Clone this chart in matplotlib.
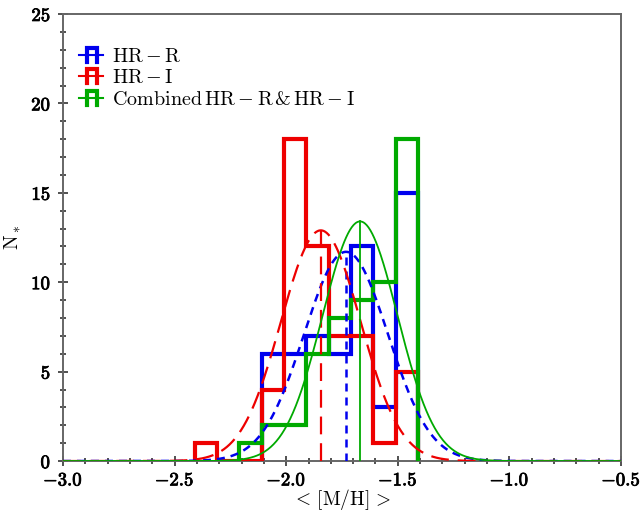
import matplotlib

matplotlib.use("Agg")
import matplotlib.patheffects as pe  # noqa: E402
import matplotlib.pyplot as plt  # noqa: E402
import numpy as np  # noqa: E402
from matplotlib.legend_handler import HandlerBase  # noqa: E402
from matplotlib.lines import Line2D  # noqa: E402
from matplotlib.ticker import FuncFormatter, MultipleLocator  # noqa: E402

plt.rcParams["mathtext.fontset"] = "cm"
plt.rcParams["font.family"] = "serif"

# metallicity bins and star counts per sample
bin_edges = [-2.41, -2.31, -2.21, -2.11, -2.01, -1.91, -1.81, -1.71, -1.61, -1.51, -1.41]
counts_r = [0, 0, 0, 6, 6, 7, 6, 12, 3, 15]
counts_i = [1, 0, 0, 4, 18, 12, 7, 7, 1, 5]
counts_comb = [0, 0, 1, 2, 2, 6, 8, 9, 10, 18]

# gaussian fits: (mean, sigma, amplitude)
fit_r = (-1.732, 0.188, 11.7)
fit_i = (-1.845, 0.178, 12.9)
fit_comb = (-1.669, 0.168, 13.4)

labels = [r"$\mathrm{HR-R}$", r"$\mathrm{HR-I}$", r"$\mathrm{Combined\,HR-R\,&\,HR-I}$"]
colors = ["#0000ee", "#ee0000", "#00aa00"]


class StepHandler(HandlerBase):
    """Small step-histogram glyph for the legend."""

    def create_artists(self, legend, orig_handle, xdescent, ydescent, width, height,
                       fontsize, trans):
        c = orig_handle.get_color()
        x0, y0 = -xdescent, -ydescent
        ym = y0 + height / 2
        thin = Line2D([x0, x0 + width], [ym, ym], color=c, lw=1.5, transform=trans)
        xa, xb = x0 + 0.32 * width, x0 + 0.76 * width
        lo, hi = ym - 0.5 * height, ym + 0.5 * height
        step = Line2D([xa, xa, xb, xb], [lo, hi, hi, lo], color=c, lw=3.0,
                      solid_joinstyle="miter", transform=trans)
        return [thin, step]


def gauss(x, mu, sig, amp):
    return amp * np.exp(-0.5 * ((x - mu) / sig) ** 2)


fig = plt.figure(figsize=(6.4, 5.11), dpi=100)
ax = fig.add_axes([0.0984, 0.0978, 0.8719, 0.8748])

edges = np.array(bin_edges)
for counts, col in zip([counts_r, counts_i, counts_comb], colors):
    c = np.array(counts)
    k = np.nonzero(c)[0][0]
    ax.stairs(c[k:], edges[k:], color=col, lw=3.0, baseline=0, zorder=3)

xs = np.linspace(-3.0, -0.5, 600)
styles = [dict(ls=(0, (3.2, 2.4)), lw=1.8), dict(ls=(0, (8.0, 4.0)), lw=1.6), dict(ls="-", lw=1.3)]
for (mu, sig, amp), col, st in zip([fit_r, fit_i, fit_comb], colors, styles):
    ax.plot(xs, gauss(xs, mu, sig, amp), color=col, zorder=4, **st)
    ax.plot([mu, mu], [0, amp], color=col, zorder=4, **st)

ax.set_xlim(-3.0, -0.5)
ax.set_ylim(0, 25)
ax.xaxis.set_major_locator(MultipleLocator(0.5))
ax.xaxis.set_minor_locator(MultipleLocator(0.1))
ax.yaxis.set_major_locator(MultipleLocator(5))
ax.yaxis.set_minor_locator(MultipleLocator(1))
ax.xaxis.set_major_formatter(FuncFormatter(lambda v, p: r"$\mathbf{%.1f}$" % v))
ax.yaxis.set_major_formatter(FuncFormatter(lambda v, p: r"$\mathbf{%d}$" % v))
ax.tick_params(which="both", direction="inout", color="#333333", labelsize=13.5, width=1.2)
ax.tick_params(which="major", length=7)
ax.tick_params(which="minor", length=4)
ax.tick_params(axis="x", pad=4)
ax.tick_params(axis="y", pad=5)
bold = [pe.withStroke(linewidth=0.6, foreground="black")]
for t in ax.get_xticklabels() + ax.get_yticklabels():
    t.set_path_effects(bold)
for s in ax.spines.values():
    s.set_color("#666666")
    s.set_linewidth(1.4)

ax.set_xlabel(r"$<\,\mathrm{[M/H]}\,>$", fontsize=14)
ax.xaxis.set_label_coords(0.5, -0.058)
ax.set_ylabel(r"$\mathrm{N_*}$", fontsize=14, labelpad=6)

proxies = [Line2D([], [], color=c) for c in colors]
ax.legend(proxies, labels, handler_map={Line2D: StepHandler()}, loc="upper left",
          bbox_to_anchor=(-0.004, 0.967), frameon=False, fontsize=14.5, handlelength=1.2,
          handletextpad=0.45, labelspacing=0.12)

fig.savefig("out.png", dpi=100)
